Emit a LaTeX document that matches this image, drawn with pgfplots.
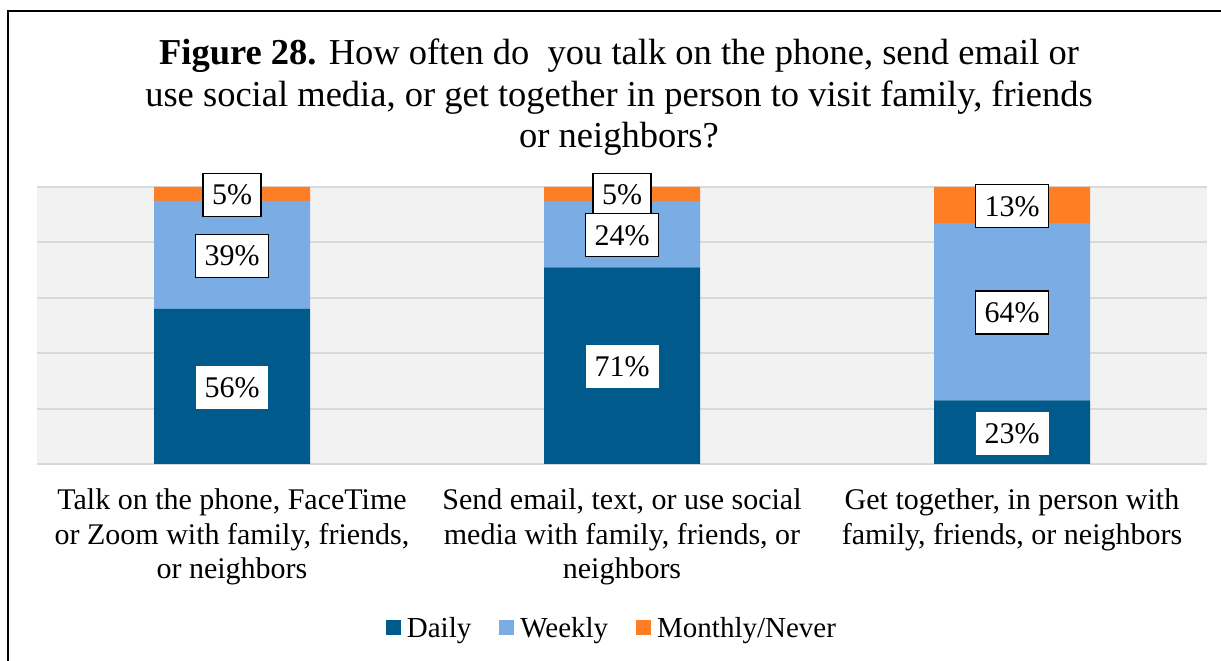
\documentclass[border=0pt]{standalone}
\usepackage{fontspec}
\setmainfont{Liberation Serif}
\usepackage{pgfplots}
\pgfplotsset{compat=1.18}
\definecolor{cDaily}{HTML}{005A8C}
\definecolor{cWeekly}{HTML}{7AADE4}
\definecolor{cMonthly}{HTML}{FD7E24}
\definecolor{gridc}{HTML}{D9D9D9}
\definecolor{bgc}{HTML}{F2F2F2}
\tikzset{
  lbl/.style={anchor=center, fill=white, text=black, font=\fontsize{30}{36}\selectfont,
    inner xsep=9pt, inner ysep=11pt, text height=20.5pt, text depth=0.5pt, yshift=-1pt},
}
\begin{document}
\begin{tikzpicture}
\useasboundingbox (0pt,0pt) rectangle (1221pt,661pt);
\clip (0pt,0pt) rectangle (1221pt,661pt);
\draw[line width=2.2pt] (8pt,-30pt) -- (8pt,650pt) -- (1240pt,650pt);
\node[anchor=base,font=\fontsize{36.5}{42}\selectfont] at (619pt,596pt) {\textbf{Figure 28.} How often do\ \ you talk on the phone, send email or};
\node[anchor=base,font=\fontsize{36.5}{42}\selectfont] at (619pt,554pt) {use social media, or get together in person to visit family, friends};
\node[anchor=base,font=\fontsize{36.5}{42}\selectfont] at (619pt,513pt) {or neighbors?};
\begin{axis}[
  at={(37pt,197pt)}, anchor=south west, scale only axis,
  width=1170pt, height=277pt,
  ybar stacked, bar width=156pt,
  xmin=-0.5, xmax=2.5, ymin=0, ymax=100,
  axis background/.style={fill=bgc},
  axis line style={draw=none},
  major tick length=0pt,
  ytick={0,20,...,100}, yticklabels={},
  ymajorgrids, grid style={gridc, line width=2pt},
  xtick={0,1,2},
  xticklabels={{Talk on the phone, FaceTime\\or Zoom with family, friends,\\or neighbors},
               {Send email, text, or use social\\media with family, friends, or\\neighbors},
               {Get together, in person with\\family, friends, or neighbors}},
  xticklabel style={align=center, font=\fontsize{30}{34.5}\selectfont, anchor=north, inner sep=0pt, yshift=-24.5pt},
  legend style={at={(axis description cs:0.4914,-0.592)}, anchor=center, draw=none, fill=none,
    font=\fontsize{29}{34}\selectfont, /tikz/every even column/.append style={column sep=26pt}},
  legend columns=3, legend cell align=left,
  legend image code/.code={\fill[#1] (0pt,-7.5pt) rectangle (15pt,7.5pt); \path (19pt,0pt);},
]
\addplot[fill=cDaily, draw=none,
  visualization depends on={rawy \as \rawy},
  nodes near coords={\pgfmathprintnumber[assume math mode=true]{\rawy}\%},
  every node near coord/.append style={lbl}]
  coordinates {(0,56) (1,71) (2,23)};
\addlegendentry{Daily}
\addplot[fill=cWeekly, draw=none,
  visualization depends on={rawy \as \rawy},
  nodes near coords={\pgfmathprintnumber[assume math mode=true]{\rawy}\%},
  every node near coord/.append style={lbl, draw=black, line width=1.5pt}]
  coordinates {(0,39) (1,24) (2,64)};
\addlegendentry{Weekly}
\addplot[fill=cMonthly, draw=none,
  visualization depends on={rawy \as \rawy},
  nodes near coords={\pgfmathprintnumber[assume math mode=true]{\rawy}\%},
  every node near coord/.append style={lbl, draw=black, line width=1.5pt}]
  coordinates {(0,5) (1,5) (2,13)};
\addlegendentry{Monthly/Never}
\end{axis}
\end{tikzpicture}
\end{document}
